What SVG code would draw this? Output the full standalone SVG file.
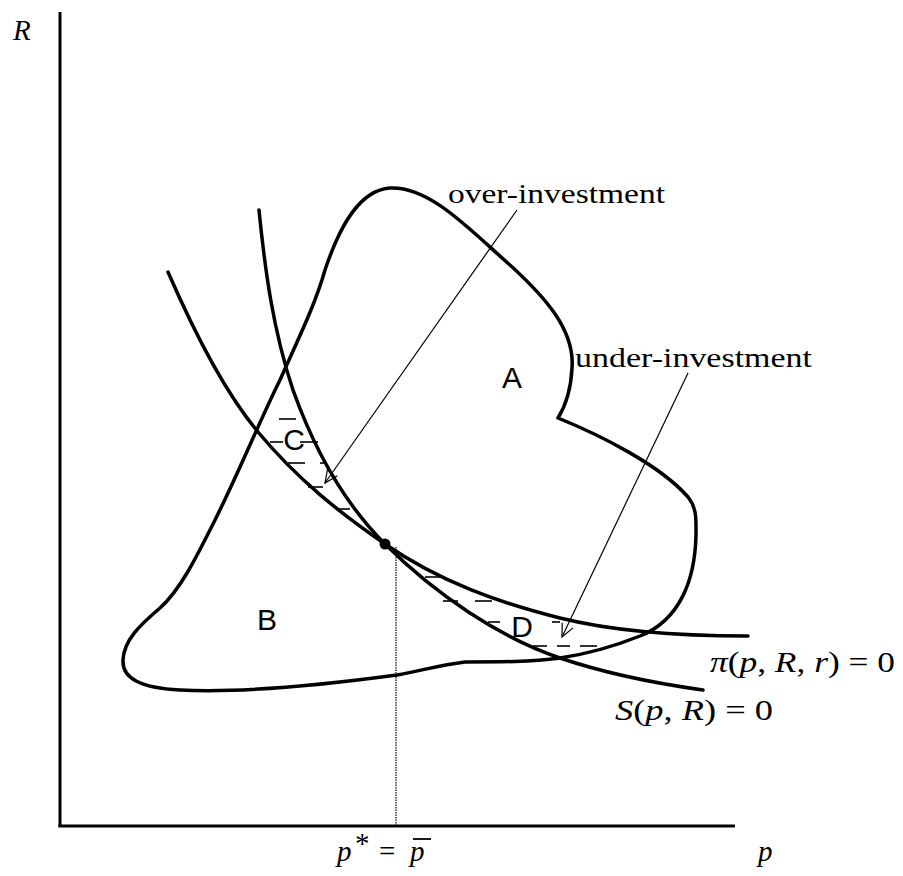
<svg xmlns="http://www.w3.org/2000/svg" width="903" height="876" viewBox="0 0 903 876">
<style>
.axis{stroke:#000;stroke-width:3;fill:none}
.curve{stroke:#000;stroke-width:3.5;fill:none;stroke-linecap:round;stroke-linejoin:round}
.hatch{stroke:#000;stroke-width:1.6}
.ptr{stroke:#000;stroke-width:1.2;fill:none}
.math{font-family:"Liberation Serif",serif;font-size:29px;fill:#000}
.it{font-style:italic}
.lbl{font-family:"Liberation Serif",serif;font-size:28px;fill:#000}
.reg{font-family:"Liberation Sans",Arial,sans-serif;font-size:30px;fill:#000;text-anchor:middle}
</style>
<defs>
<marker id="vhead" markerWidth="16" markerHeight="14" refX="14" refY="7" orient="auto" markerUnits="userSpaceOnUse">
<path d="M1,1 L14,7 L1,13" fill="none" stroke="#000" stroke-width="1.2"/>
</marker>
</defs>
<g id="axes">
<line class="axis" x1="60" y1="12" x2="60" y2="827"/>
<line class="axis" x1="58.5" y1="826" x2="735" y2="826"/>
<line x1="396" y1="547" x2="396" y2="826" stroke="#000" stroke-width="1.2" stroke-dasharray="1.5 1"/>
</g>
<g id="blob">
<path class="curve" d="M390,188 C430,186 470,230 510,265 C545,297 575,330 572,368 C571,390 566,405 558,418 C600,435 660,465 688,497 C697,508 696,520 696,535 C695,580 680,620 640,636 C610,648 580,655 560,658 C530,662 500,662 465,662 C440,665 420,671 397,675 C330,684 240,693 180,690 C140,688 122,678 123,660 C124,640 140,625 160,608 C180,590 195,560 215,520 C240,470 260,420 280,380 C300,335 315,305 325,270 C340,225 360,190 390,188 Z"/>
</g>
<g id="pi-curve">
<path class="curve" d="M168,272 C198,341 228,396 258,432 C298,480 340,513 385,544 C440,582 500,603 560,618 C620,633 690,636 748,636"/>
</g>
<g id="s-curve">
<path class="curve" d="M259,210 C265,270 273,330 293,390 C318,460 350,509 385,544 C435,594 500,638 560,658 C610,675 660,684 703,690"/>
</g>
<g id="hatch-C">
<line class="hatch" x1="279" y1="419" x2="296" y2="419"/>
<line class="hatch" x1="270" y1="442" x2="283" y2="442"/>
<line class="hatch" x1="300" y1="442" x2="318" y2="442"/>
<line class="hatch" x1="288" y1="463" x2="305" y2="463"/>
<line class="hatch" x1="320" y1="463" x2="327" y2="463"/>
<line class="hatch" x1="308" y1="487" x2="323" y2="487"/>
<line class="hatch" x1="337" y1="509" x2="350" y2="509"/>
</g>
<g id="hatch-D">
<line class="hatch" x1="425" y1="577" x2="440" y2="577"/>
<line class="hatch" x1="443" y1="601" x2="458" y2="601"/>
<line class="hatch" x1="475" y1="601" x2="492" y2="601"/>
<line class="hatch" x1="488" y1="622" x2="500" y2="622"/>
<line class="hatch" x1="552" y1="622" x2="560" y2="622"/>
<line class="hatch" x1="533" y1="646" x2="547" y2="646"/>
<line class="hatch" x1="557" y1="646" x2="570" y2="646"/>
<line class="hatch" x1="580" y1="646" x2="597" y2="646"/>
</g>
<g id="equilibrium">
<circle cx="385" cy="544" r="5.5" fill="#000"/>
</g>
<g id="connectors">
<line class="ptr" x1="517" y1="210" x2="325" y2="483" marker-end="url(#vhead)"/>
<line class="ptr" x1="688" y1="373" x2="562" y2="637" marker-end="url(#vhead)"/>
</g>
<g id="region-labels">
<text class="reg" x="512" y="388">A</text>
<text class="reg" x="267" y="630">B</text>
<text class="reg" x="294" y="450">C</text>
<text class="reg" x="522" y="637">D</text>
</g>
<g id="label-over">
<text class="lbl" x="448" y="203" textLength="217" lengthAdjust="spacingAndGlyphs">over-investment</text>
</g>
<g id="label-under">
<text class="lbl" x="575" y="367" textLength="237" lengthAdjust="spacingAndGlyphs">under-investment</text>
</g>
<g id="label-pi">
<text class="math" x="710" y="672" textLength="185" lengthAdjust="spacingAndGlyphs"><tspan class="it">π</tspan>(<tspan class="it">p</tspan>, <tspan class="it">R</tspan>, <tspan class="it">r</tspan>) = 0</text>
</g>
<g id="label-s">
<text class="math" x="615" y="720" textLength="158" lengthAdjust="spacingAndGlyphs"><tspan class="it">S</tspan>(<tspan class="it">p</tspan>, <tspan class="it">R</tspan>) = 0</text>
</g>
<g id="label-R">
<text class="math it" x="13" y="40">R</text>
</g>
<g id="label-p">
<text class="math it" x="758" y="861" font-size="32">p</text>
</g>
<g id="label-pstar">
<text class="math it" x="337" y="861" font-size="32">p</text>
<text class="math" x="355" y="853" font-size="22">*</text>
<text class="math" x="379" y="861" font-size="34">=</text>
<text class="math it" x="410" y="861" font-size="32">p</text>
<line x1="413" y1="839" x2="431" y2="839" stroke="#000" stroke-width="1.8"/>
</g>
</svg>
